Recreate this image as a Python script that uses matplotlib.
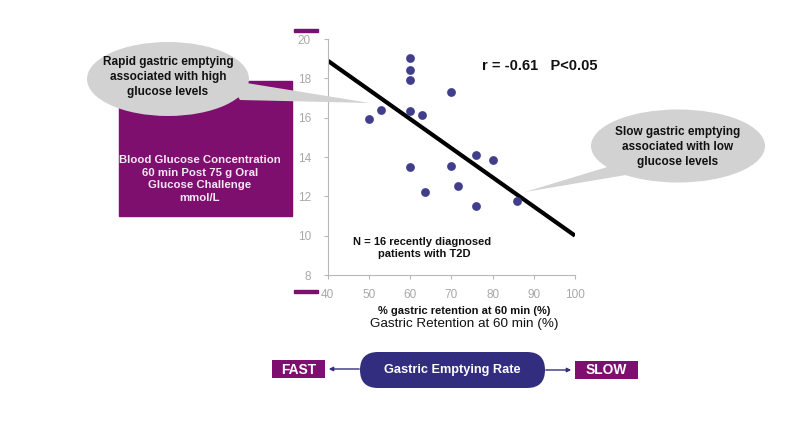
import matplotlib
matplotlib.use("Agg")
import matplotlib.pyplot as plt
from matplotlib.patches import Ellipse, Polygon, Rectangle, FancyBboxPatch

plt.rcParams['font.family'] = ['Liberation Sans', 'DejaVu Sans']

# ---- data ----
retention = [60, 60, 60, 70, 53, 50, 60, 63, 76, 80, 60, 70, 71.5, 63.5, 76, 86]
glucose = [19.05, 18.4, 17.9, 17.3, 16.4, 15.95, 16.35, 16.15, 14.1, 13.85, 13.5, 13.55, 12.55, 12.2, 11.5, 11.75]
fit_x = [40, 100]
fit_y = [18.9, 10.0]
x_ticks = [40, 50, 60, 70, 80, 90, 100]
y_ticks = [8, 10, 12, 14, 16, 18, 20]

W, H = 811, 421
fig = plt.figure(figsize=(W / 100, H / 100), dpi=100)

PURPLE = '#7F0F6E'
NAVY = '#322D7E'
DOT = '#413F8C'
GRAY = '#D2D2D2'
TICKC = '#A8A8A8'

# ---- data axes ----
x0, x1, ytop, ybot = 327.7, 575, 39, 275
ax = fig.add_axes([x0 / W, 1 - ybot / H, (x1 - x0) / W, (ybot - ytop) / H])
ax.scatter(retention, glucose, s=40, color=DOT, zorder=3, linewidths=0)
ax.plot(fit_x, fit_y, color='black', lw=3, solid_capstyle='butt', zorder=2)
ax.set_xlim(40, 100)
ax.set_ylim(8, 20)
ax.set_xticks(x_ticks)
ax.set_yticks(y_ticks)
for s in ['top', 'right']:
    ax.spines[s].set_visible(False)
for s in ['left', 'bottom']:
    ax.spines[s].set_color('#B8B8B8')
    ax.spines[s].set_linewidth(0.8)
ax.tick_params(colors='#B8B8B8', labelcolor=TICKC, labelsize=8.5, length=3, width=0.8, direction='out')
ax.tick_params(axis='y', pad=9)
ax.tick_params(axis='x', pad=7)

# ---- overlay in pixel coords ----
ov = fig.add_axes([0, 0, 1, 1], zorder=5)
ov.set_xlim(0, W)
ov.set_ylim(H, 0)
ov.axis('off')
ov.patch.set_alpha(0)

# purple y-label box
ov.add_patch(Rectangle((119, 81), 173, 135, color=PURPLE, zorder=1))
ov.text(200, 179, 'Blood Glucose Concentration\n60 min Post 75 g Oral\nGlucose Challenge\nmmol/L',
        ha='center', va='center', fontsize=8.2, fontweight='bold', color='#F6E6F4',
        linespacing=1.3, zorder=2)

# small purple bars
ov.add_patch(Rectangle((294, 28.5), 24, 3.5, color=PURPLE, zorder=2))
ov.add_patch(Rectangle((294, 289.5), 24, 3.5, color=PURPLE, zorder=2))

# callout 1
ov.add_patch(Polygon([(228, 80), (240, 100), (370, 103)], closed=True, color=GRAY, lw=0, zorder=3))
ov.add_patch(Ellipse((168, 79), 162, 74, color=GRAY, lw=0, zorder=3))
ov.text(168, 77, 'Rapid gastric emptying\nassociated with high\nglucose levels', ha='center', va='center',
        fontsize=8.5, fontweight='bold', color='#111111', linespacing=1.3, zorder=4)

# callout 2
ov.add_patch(Polygon([(614, 165), (626, 175), (525, 192)], closed=True, color=GRAY, lw=0, zorder=3))
ov.add_patch(Ellipse((678, 146), 174, 73, color=GRAY, lw=0, zorder=3))
ov.text(678, 147, 'Slow gastric emptying\nassociated with low\nglucose levels', ha='center', va='center',
        fontsize=8.5, fontweight='bold', color='#111111', linespacing=1.3, zorder=4)

# stats and N text
ov.text(482, 66, 'r = -0.61   P<0.05', ha='left', va='center', fontsize=10.5, fontweight='bold', color='#111111')
ov.text(422, 242, 'N = 16 recently diagnosed', ha='center', va='center', fontsize=8, fontweight='bold', color='#111111')
ov.text(424, 254, 'patients with T2D', ha='center', va='center', fontsize=8, fontweight='bold', color='#111111')

# x labels
ov.text(464, 311, '% gastric retention at 60 min (%)', ha='center', va='center', fontsize=8, fontweight='bold', color='#111111')
ov.text(464, 324, 'Gastric Retention at 60 min (%)', ha='center', va='center', fontsize=9.7, color='#111111')

# bottom arrow row
ov.annotate('', xy=(326, 369), xytext=(362, 369),
            arrowprops=dict(arrowstyle='-|>', color=NAVY, lw=1, mutation_scale=6), zorder=2)
ov.annotate('', xy=(574, 370), xytext=(543, 370),
            arrowprops=dict(arrowstyle='-|>', color=NAVY, lw=1, mutation_scale=6), zorder=2)
ov.add_patch(FancyBboxPatch((360, 352), 185, 36, boxstyle='round,pad=0,rounding_size=18',
                            color=NAVY, lw=0, zorder=3))
ov.text(452.5, 370, 'Gastric Emptying Rate', ha='center', va='center', fontsize=9.2, fontweight='bold',
        color='white', zorder=4)
ov.add_patch(Rectangle((272, 360), 53, 18, color=PURPLE, lw=0, zorder=3))
ov.text(298.5, 369.5, 'FAST', ha='center', va='center', fontsize=9.9, fontweight='bold', color='white', zorder=4)
ov.add_patch(Rectangle((575, 361), 63, 18, color=PURPLE, lw=0, zorder=3))
ov.text(606.5, 370.5, 'SLOW', ha='center', va='center', fontsize=9.9, fontweight='bold', color='white', zorder=4)

fig.savefig('out.png', dpi=100)
